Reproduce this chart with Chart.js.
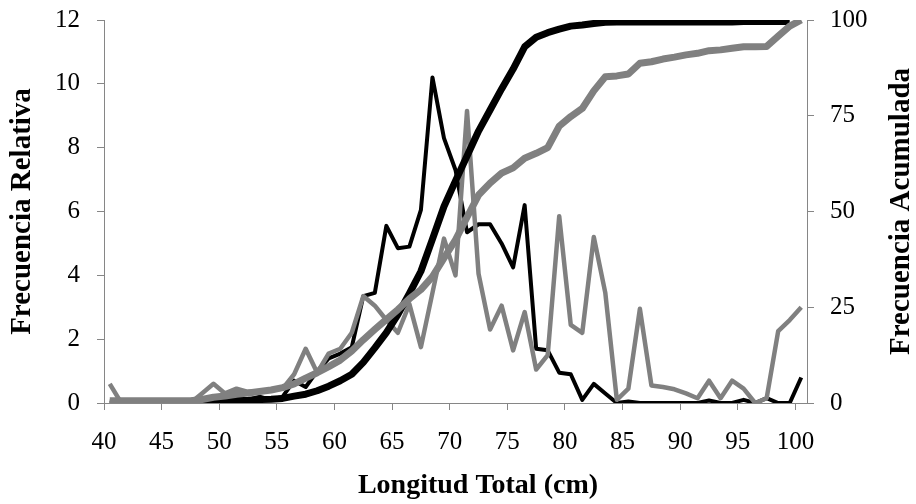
<!DOCTYPE html>
<html>
<head>
<meta charset="utf-8">
<script src="https://cdn.jsdelivr.net/npm/chart.js@4.4.1/dist/chart.umd.min.js"></script>
<style>
  html, body { margin: 0; padding: 0; background: #fff; }
  #wrap { width: 916px; height: 504px; }
</style>
</head>
<body>
<div id="wrap"><canvas id="c" width="916" height="504"></canvas></div>
<script>
// class midpoints (cm)
const tallas = [40.5, 41.5, 42.5, 43.5, 44.5, 45.5, 46.5, 47.5, 48.5, 49.5,
  50.5, 51.5, 52.5, 53.5, 54.5, 55.5, 56.5, 57.5, 58.5, 59.5,
  60.5, 61.5, 62.5, 63.5, 64.5, 65.5, 66.5, 67.5, 68.5, 69.5,
  70.5, 71.5, 72.5, 73.5, 74.5, 75.5, 76.5, 77.5, 78.5, 79.5,
  80.5, 81.5, 82.5, 83.5, 84.5, 85.5, 86.5, 87.5, 88.5, 89.5,
  90.5, 91.5, 92.5, 93.5, 94.5, 95.5, 96.5, 97.5, 98.5, 99.5, 100.5];

const xTicks = [40, 45, 50, 55, 60, 65, 70, 75, 80, 85, 90, 95, 100];
const yTicksRel = [0, 2, 4, 6, 8, 10, 12];
const yTicksAcum = [0, 25, 50, 75, 100];

// frecuencia relativa (%), serie negra
const relNegra = [0, 0, 0, 0, 0, 0, 0, 0, 0.1, 0.2,
  0.1, 0.2, 0.1, 0.2, 0.1, 0.2, 0.7, 0.5, 1.0, 1.4,
  1.55, 1.75, 3.35, 3.45, 5.55, 4.85, 4.9, 6.05, 10.2, 8.3,
  7.3, 5.35, 5.6, 5.6, 5.0, 4.25, 6.2, 1.7, 1.65, 0.95,
  0.9, 0.1, 0.6, 0.3, 0, 0.05, 0, 0, 0, 0,
  0, 0, 0.08, 0, 0, 0.1, 0, 0.15, 0, 0, 0.8];

// frecuencia relativa (%), serie gris
const relGris = [0.6, 0, 0, 0, 0, 0, 0, 0, 0.3, 0.6,
  0.3, 0.45, 0.35, 0.35, 0.4, 0.45, 0.9, 1.7, 0.95, 1.55,
  1.7, 2.2, 3.35, 3.05, 2.6, 2.2, 3.1, 1.75, 3.45, 5.15,
  4.0, 9.15, 4.05, 2.3, 3.05, 1.65, 2.85, 1.05, 1.5, 5.85,
  2.45, 2.2, 5.2, 3.45, 0.1, 0.45, 2.95, 0.55, 0.5, 0.43,
  0.3, 0.15, 0.7, 0.15, 0.7, 0.45, 0, 0.15, 2.25, 2.6, 3.0];

// frecuencia acumulada (%), serie negra
const acumNegra = [0, 0, 0, 0, 0, 0, 0, 0, 0.1, 0.3,
  0.4, 0.6, 0.7, 0.9, 1.0, 1.2, 1.8, 2.3, 3.2, 4.4,
  5.8, 7.5, 10.6, 14.4, 18.4, 23.1, 28.6, 34.4, 42.8, 51.3,
  58.0, 64.5, 71.0, 76.5, 82.0, 87.2, 93.0, 95.5, 96.7, 97.6,
  98.4, 98.7, 99.1, 99.4, 99.5, 99.5, 99.5, 99.5, 99.5, 99.5,
  99.5, 99.5, 99.5, 99.5, 99.5, 99.6, 99.6, 99.6, 99.6, 99.6, null];

// frecuencia acumulada (%), serie gris
const acumGris = [0.6, 0.6, 0.6, 0.6, 0.6, 0.6, 0.6, 0.6, 0.9, 1.5,
  1.8, 2.3, 2.6, 3.0, 3.4, 4.0, 5.0, 6.5, 7.9, 9.5,
  11.2, 13.6, 16.5, 19.2, 21.8, 24.4, 27.2, 29.6, 33.0, 37.8,
  42.6, 48.5, 54.3, 57.4, 60.0, 61.4, 63.9, 65.2, 66.7, 72.3,
  74.8, 76.9, 81.5, 85.2, 85.4, 85.9, 88.7, 89.1, 89.8, 90.3,
  90.9, 91.3, 92.0, 92.2, 92.6, 93.0, 93.0, 93.1, 95.8, 98.4, 100];

const axisGray = '#868686';
const serif = "'Liberation Serif', 'Times New Roman', serif";
const tickFont = { family: serif, size: 25 };

function pts(arr) {
  return tallas.map((x, i) => ({ x: x, y: arr[i] }));
}

function fixTicks(list) {
  return (s) => { s.ticks = list.map((v) => ({ value: v })); };
}

// keep chart area where we put it, labels may overflow the padding
function sizeAxis(prop, size) {
  return (s) => {
    s[prop] = size;
    s.paddingTop = 0;
    s.paddingBottom = 0;
    s.paddingLeft = 0;
    s.paddingRight = 0;
  };
}

function vText(ctx, text, x, y) {
  ctx.save();
  ctx.translate(x, y);
  ctx.rotate(-Math.PI / 2);
  ctx.fillText(text, 0, 0);
  ctx.restore();
}

const axisTitles = {
  id: 'axisTitles',
  afterDraw(chart) {
    const ctx = chart.ctx;
    const a = chart.chartArea;
    const midY = (a.top + a.bottom) / 2;
    ctx.save();
    ctx.fillStyle = '#000';
    ctx.textAlign = 'center';
    ctx.textBaseline = 'middle';
    ctx.font = 'bold 28px ' + serif;
    ctx.fillText('Longitud Total (cm)', 478, 486);
    ctx.font = 'bold 29px ' + serif;
    vText(ctx, 'Frecuencia Relativa', 23, midY);
    vText(ctx, 'Frecuencia Acumulada', 902, midY);
    ctx.restore();
  }
};

const line = (data, color, width, axis, order) => ({
  data: data,
  borderColor: color,
  borderWidth: width,
  yAxisID: axis,
  order: order,
  pointRadius: 0,
  tension: 0,
  fill: false,
  borderJoinStyle: 'round',
  borderCapStyle: 'butt',
  spanGaps: false
});

new Chart(document.getElementById('c'), {
  type: 'line',
  data: {
    datasets: [
      line(pts(relNegra), '#000000', 4, 'y', 3),
      line(pts(relGris), '#808080', 4.5, 'y', 2),
      line(pts(acumNegra), '#000000', 7, 'y2', 1),
      line(pts(acumGris), '#808080', 7, 'y2', 0)
    ]
  },
  options: {
    responsive: false,
    animation: false,
    devicePixelRatio: 1,
    layout: { padding: { top: 20, left: 0, right: 0, bottom: 0 } },
    plugins: { legend: { display: false }, tooltip: { enabled: false } },
    scales: {
      x: {
        type: 'linear',
        min: 40,
        max: 101,
        afterBuildTicks: fixTicks(xTicks),
        afterFit: sizeAxis('height', 101),
        grid: { drawOnChartArea: false, drawTicks: true, tickLength: 7, color: axisGray },
        border: { color: axisGray, width: 1 },
        ticks: { font: tickFont, color: '#000', padding: 17, maxRotation: 0, autoSkip: false }
      },
      y: {
        position: 'left',
        min: 0,
        max: 12,
        afterBuildTicks: fixTicks(yTicksRel),
        afterFit: sizeAxis('width', 104),
        grid: { drawOnChartArea: false, drawTicks: true, tickLength: 7, color: axisGray },
        border: { color: axisGray, width: 1 },
        ticks: { font: tickFont, color: '#000', padding: 17 }
      },
      y2: {
        position: 'right',
        min: 0,
        max: 100,
        afterBuildTicks: fixTicks(yTicksAcum),
        afterFit: sizeAxis('width', 109),
        grid: { drawOnChartArea: false, drawTicks: true, tickLength: 7, color: axisGray },
        border: { color: axisGray, width: 1 },
        ticks: { font: tickFont, color: '#000', padding: 16 }
      }
    }
  },
  plugins: [axisTitles]
});
</script>
</body>
</html>
